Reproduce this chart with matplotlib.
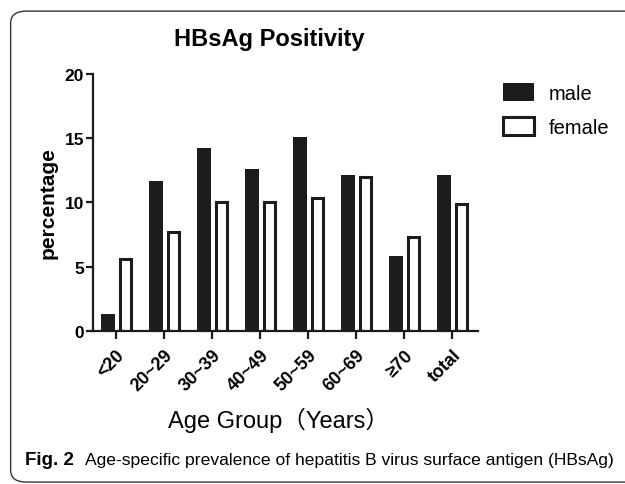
import matplotlib
matplotlib.use("Agg")
import matplotlib.pyplot as plt
import numpy as np
from matplotlib.patches import FancyBboxPatch

groups = ["<20", "20~29", "30~39", "40~49", "50~59", "60~69", "≥70", "total"]
male = [1.3, 11.7, 14.2, 12.6, 15.1, 12.1, 5.8, 12.1]
female = [5.6, 7.7, 10.0, 10.0, 10.35, 12.0, 7.35, 9.85]

plt.rcParams["font.family"] = ["Liberation Sans", "Noto Sans CJK SC", "DejaVu Sans"]

fig = plt.figure(figsize=(6.25, 4.85), dpi=100)
ax = fig.add_axes([0.1488, 0.3155, 0.616, 0.530])

# rounded frame around the whole figure
frame = FancyBboxPatch((0.017, 0.004), 1.1, 0.971, transform=fig.transFigure,
                       boxstyle="round,pad=0,rounding_size=0.025",
                       facecolor="none", edgecolor="#333333", linewidth=1.0,
                       clip_on=False)
fig.patches.append(frame)

x = np.arange(len(groups))
dark = "#1c1c1c"
ax.bar(x - 0.17, male, width=0.30, color=dark, label="male")
ax.bar(x + 0.20, female, width=0.225, color="white", edgecolor=dark,
       linewidth=2.2, label="female")

ax.set_xlim(-0.48, 7.54)
ax.set_ylim(0, 20)
ax.set_yticks([0, 5, 10, 15, 20])
ax.set_xticks(x)
ax.set_xticklabels(groups, rotation=45, ha="right", rotation_mode="anchor",
                   fontsize=13, fontweight="bold")
for lab in ax.get_yticklabels():
    lab.set_fontsize(12.5)
    lab.set_fontweight("bold")

for s in ["top", "right"]:
    ax.spines[s].set_visible(False)
for s in ["left", "bottom"]:
    ax.spines[s].set_linewidth(1.6)
    ax.spines[s].set_color(dark)
ax.tick_params(axis="y", width=1.6, length=5, color=dark, pad=1.5)
ax.tick_params(axis="x", width=1.6, length=6, color=dark, pad=5)

ax.set_ylabel("percentage", fontsize=15, fontweight="bold", labelpad=5)

fig.text(0.43, 0.905, "HBsAg Positivity", fontsize=17, fontweight="bold",
         ha="center", va="baseline")
fig.text(0.445, 0.134, "Age Group（Years）", fontsize=17, ha="center", va="center")
fig.text(0.040, 0.0495, "Fig. 2", fontsize=13.5, fontweight="bold", va="center")
fig.text(0.136, 0.0495,
         "Age-specific prevalence of hepatitis B virus surface antigen (HBsAg)",
         fontsize=12.6, va="center")

fig.legend(*ax.get_legend_handles_labels(), loc="upper left",
           bbox_to_anchor=(0.804, 0.826), frameon=False, borderpad=0,
           borderaxespad=0, fontsize=14.5, handlelength=1.55,
           handleheight=0.95, handletextpad=0.75, labelspacing=0.72)

plt.savefig("out.png", dpi=100)
